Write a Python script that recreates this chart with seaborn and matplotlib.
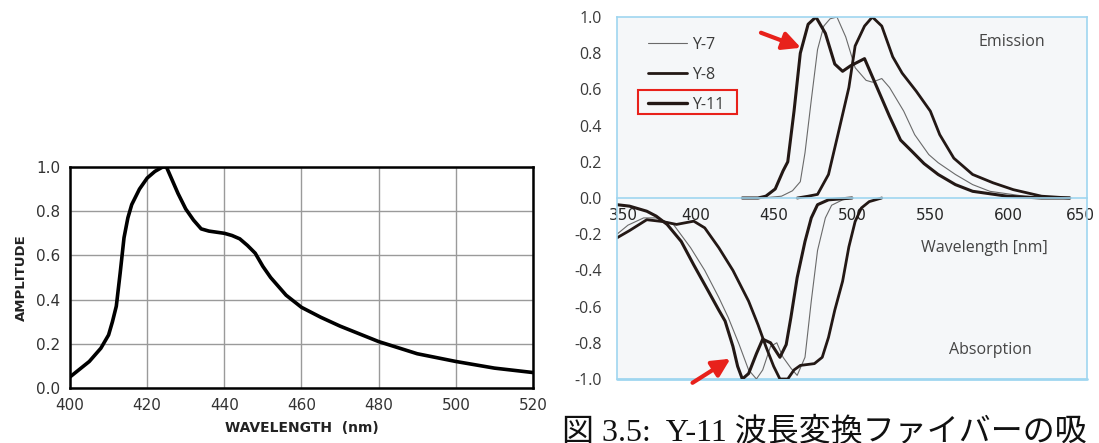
import matplotlib
matplotlib.use("Agg")
import matplotlib.pyplot as plt
import matplotlib.transforms as mtransforms
import seaborn as sns
from matplotlib.patches import Rectangle
from matplotlib.lines import Line2D

sns.set_theme(style="white")
plt.rcParams['font.family'] = ['DejaVu Sans']

# ---------------- Left chart data ----------------
left_wl = [400, 405, 408, 410, 411, 412, 413, 414, 415, 416, 418, 420, 422, 424, 425, 426, 428, 430,
           432, 434, 436, 440, 442, 444, 446, 448, 450, 452, 454, 456, 460, 465, 470, 475, 480, 490,
           500, 510, 520]
left_amp = [0.05, 0.12, 0.18, 0.24, 0.30, 0.37, 0.52, 0.68, 0.77, 0.83, 0.90, 0.95, 0.98, 1.0, 1.0,
            0.96, 0.88, 0.81, 0.76, 0.72, 0.71, 0.70, 0.69, 0.675, 0.645, 0.61, 0.55, 0.50, 0.46,
            0.42, 0.365, 0.32, 0.28, 0.245, 0.21, 0.155, 0.12, 0.09, 0.07]
left_xticks = [400, 420, 440, 460, 480, 500, 520]
left_yticks = [0.0, 0.2, 0.4, 0.6, 0.8, 1.0]

# ---------------- Right chart data ----------------
y7_em_wl = [443, 455, 462, 467, 470, 474, 478, 482, 486, 490.4, 496, 502, 509, 513, 519, 524, 533,
            540, 549, 555, 566, 577, 588, 610, 639]
y7_em = [0.0, 0.01, 0.04, 0.09, 0.25, 0.54, 0.82, 0.95, 0.99, 1.0, 0.89, 0.72, 0.65, 0.64, 0.66,
         0.61, 0.48, 0.35, 0.24, 0.195, 0.13, 0.074, 0.037, 0.01, 0.0]

y8_em_wl = [465, 472, 478, 485, 491, 498, 502, 508, 513, 519, 526, 532, 541, 550, 556, 565, 577,
            590, 603, 621, 639]
y8_em = [0.0, 0.01, 0.02, 0.13, 0.35, 0.61, 0.84, 0.95, 1.0, 0.95, 0.78, 0.69, 0.59, 0.48, 0.35,
         0.22, 0.13, 0.084, 0.046, 0.01, 0.0]

y11_em_wl = [430, 440, 445, 451, 456, 459, 463, 467, 472, 477, 483, 489, 494, 499, 508, 516, 524,
             531, 538, 546, 555, 566, 577, 599, 621, 639]
y11_em = [0.0, 0.0, 0.01, 0.05, 0.15, 0.2, 0.48, 0.80, 0.96, 1.0, 0.91, 0.74, 0.70, 0.73, 0.77,
          0.61, 0.45, 0.32, 0.26, 0.19, 0.13, 0.074, 0.037, 0.01, 0.0, 0.0]

y7_ab_wl = [350, 357, 367, 375, 386, 397, 406, 415, 421, 428, 434, 439, 443, 448, 452, 456, 461,
            465, 470, 474, 478, 483, 487, 494, 500]
y7_ab = [-0.20, -0.15, -0.11, -0.11, -0.146, -0.275, -0.40, -0.55, -0.66, -0.81, -0.95, -1.0, -0.95,
         -0.82, -0.80, -0.88, -0.94, -0.98, -0.88, -0.57, -0.29, -0.11, -0.04, -0.01, 0.0]

y8_ab_wl = [350, 358, 369, 379, 388, 399, 406, 415, 424, 434, 440, 445, 450, 454, 459, 463, 467,
            476, 481, 485, 489, 494, 498, 502, 506, 511, 519]
y8_ab = [-0.22, -0.18, -0.12, -0.13, -0.146, -0.128, -0.165, -0.275, -0.40, -0.57, -0.70, -0.82,
         -0.93, -1.0, -1.0, -0.95, -0.925, -0.915, -0.88, -0.77, -0.62, -0.46, -0.27, -0.13, -0.055,
         -0.02, 0.0]

y11_ab_wl = [350, 358, 369, 375, 382, 391, 399, 408, 415, 419, 424, 427, 430, 434, 439, 443, 448,
             451, 454, 458, 461, 465, 470, 474, 478, 485, 500]
y11_ab = [-0.037, -0.045, -0.073, -0.10, -0.146, -0.24, -0.37, -0.51, -0.62, -0.68, -0.82, -0.93,
          -1.0, -0.97, -0.86, -0.78, -0.80, -0.84, -0.88, -0.81, -0.66, -0.44, -0.24, -0.11, -0.037,
          -0.01, 0.0]

series_names = ["Y-7", "Y-8", "Y-11"]
right_xticks = [350, 400, 450, 500, 550, 600, 650]
right_yticks = [-1.0, -0.8, -0.6, -0.4, -0.2, 0.0, 0.2, 0.4, 0.6, 0.8, 1.0]
caption = "図 3.5:  Y-11 波長変換ファイバーの吸"

# ---------------- Figure ----------------
fig = plt.figure(figsize=(10.99, 4.43), dpi=100)
fig.patch.set_facecolor("white")

# Left axes
axL = fig.add_axes([70 / 1099, (443 - 388) / 443, (533 - 70) / 1099, (388 - 167) / 443])
axL.set_facecolor("white")
sns.lineplot(x=left_wl, y=left_amp, ax=axL, color="black", linewidth=2.6)
axL.set_xlim(400, 520)
axL.set_ylim(0, 1.0)
axL.set_xticks(left_xticks)
axL.set_yticks(left_yticks)
axL.set_xticklabels([str(v) for v in left_xticks], fontsize=11, color="#333333")
axL.set_yticklabels([f"{v:.1f}" for v in left_yticks], fontsize=11, color="#333333")
axL.grid(True, color="#9a9a9a", linewidth=1.0)
for s in axL.spines.values():
    s.set_color("black")
    s.set_linewidth(1.8)
axL.tick_params(axis="both", direction="out", length=4, width=1, color="black", pad=3)
axL.set_xlabel("WAVELENGTH  (nm)", fontsize=10, fontweight="bold", color="#222222", labelpad=6)
axL.set_ylabel("AMPLITUDE", fontsize=9.5, fontweight="bold", color="#222222", labelpad=6)

# Right axes
blue = "#9fd6f0"
dark = "#231815"
axR = fig.add_axes([617 / 1099, (443 - 379) / 443, 470 / 1099, 362 / 443])
axR.set_facecolor("#f5f7f9")

sns.lineplot(x=y7_em_wl, y=y7_em, ax=axR, color="#6a6a6a", linewidth=0.8)
sns.lineplot(x=y8_em_wl, y=y8_em, ax=axR, color=dark, linewidth=2.0)
sns.lineplot(x=y11_em_wl, y=y11_em, ax=axR, color=dark, linewidth=2.2)
sns.lineplot(x=y7_ab_wl, y=y7_ab, ax=axR, color="#6a6a6a", linewidth=0.8)
sns.lineplot(x=y8_ab_wl, y=y8_ab, ax=axR, color=dark, linewidth=2.0)
sns.lineplot(x=y11_ab_wl, y=y11_ab, ax=axR, color=dark, linewidth=2.2)

axR.set_xlim(350, 650)
axR.set_ylim(-1.0, 1.0)
axR.set_xticks(right_xticks)
axR.set_yticks(right_yticks)
axR.set_xticklabels([str(v) for v in right_xticks], fontsize=11.5, color="#3a3a3a",
                    family=["Open Sans"])
axR.set_yticklabels([f"{v:.1f}" for v in right_yticks], fontsize=11.5, color="#3a3a3a",
                    family=["Open Sans"])
axR.spines["bottom"].set_position(("data", 0))
for s in axR.spines.values():
    s.set_color(blue)
    s.set_linewidth(1.2)
axR.axhline(-1.0, color=blue, linewidth=2.0, clip_on=False, zorder=0)
axR.tick_params(axis="x", direction="in", length=6, width=1, color=blue, pad=7)
axR.tick_params(axis="y", direction="in", length=3, width=1, color=blue, pad=11)

# nudge the end x tick labels inward, as in the reference
xlabels = axR.get_xticklabels()
xlabels[0].set_transform(xlabels[0].get_transform() +
                         mtransforms.ScaledTranslation(6 / 100, 0, fig.dpi_scale_trans))
xlabels[-1].set_transform(xlabels[-1].get_transform() +
                          mtransforms.ScaledTranslation(-7 / 100, 0, fig.dpi_scale_trans))
axR.set_xlabel("")
axR.set_ylabel("")

txt_kw = dict(transform=axR.transAxes, fontsize=11.5, color="#444444", family=["Open Sans"])
axR.text((1012 - 617) / 470, 1 - (42 - 17) / 362, "Emission", ha="center", va="center", **txt_kw)
axR.text((990 - 617) / 470, 1 - (350 - 17) / 362, "Absorption", ha="center", va="center", **txt_kw)
axR.text((984 - 617) / 470, 1 - (248 - 17) / 362, "Wavelength [nm]", ha="center", va="center", **txt_kw)

handles = [Line2D([0], [0], color="#6a6a6a", linewidth=0.8),
           Line2D([0], [0], color=dark, linewidth=2.0),
           Line2D([0], [0], color=dark, linewidth=2.4)]
leg = axR.legend(handles, series_names, loc="upper left", bbox_to_anchor=(0.036, 0.985),
                 frameon=False, handlelength=2.4, handletextpad=0.35, labelspacing=0.88,
                 prop={"family": "Open Sans", "size": 11.5})
for t in leg.get_texts():
    t.set_color("#3a3a3a")

axR.add_patch(Rectangle(((638 - 617) / 470, 1 - (114 - 17) / 362), (737 - 638) / 470, (114 - 90) / 362,
                        transform=axR.transAxes, fill=False, edgecolor="#e8211b", linewidth=1.5,
                        clip_on=False, zorder=5))

arrow_kw = dict(arrowstyle="-|>,head_length=0.9,head_width=0.45", color="#e8211b", lw=3.0,
                shrinkA=0, shrinkB=0)
axR.annotate("", xy=(467.4, 0.83), xytext=(441.9, 0.913), arrowprops=arrow_kw,
             annotation_clip=False, zorder=6)
axR.annotate("", xy=(422.4, -0.888), xytext=(398.2, -1.021), arrowprops=arrow_kw,
             annotation_clip=False, zorder=6)

fig.text(562 / 1099, (443 - 418) / 443, caption, ha="left", va="top", fontsize=23,
         color="#111111", family=["Liberation Serif", "Noto Sans CJK JP"])

fig.savefig("out.png", dpi=100, facecolor="white")
